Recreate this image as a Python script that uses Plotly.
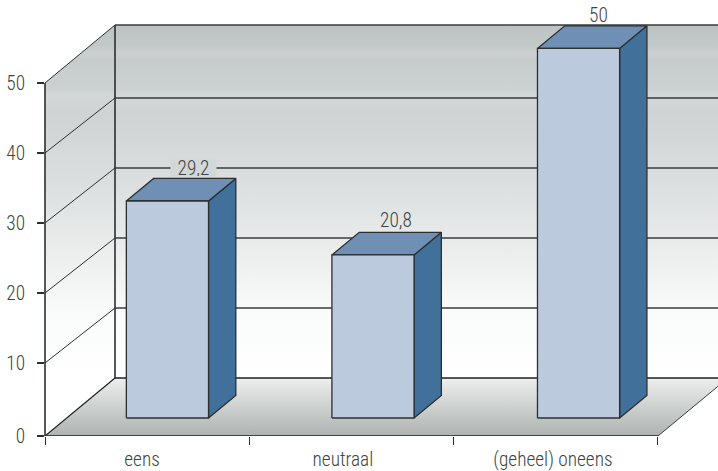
import plotly.graph_objects as go

# --- data ---
categories = ["eens", "neutraal", "(geheel) oneens"]
value_labels = ["29,2", "20,8", "50"]
bar_heights = [31.0, 23.3, 52.8]   # drawn height of each bar in axis units
y_ticks = [0, 10, 20, 30, 40, 50]

# --- geometry of the pseudo-3D box (axis units) ---
PX_X = 204.33
PX_Y = 7.0
BASE = -0.43                # the floor corner sits slightly under the linear zero
X_MAX = (718 - 45) / PX_X
Y_MAX = BASE + 436 / PX_Y
DX = 70 / PX_X
DY = 58 / PX_Y
DY_GRID = 55 / PX_Y
N = len(categories)
BAR_LEFT = 0.292
BAR_W = 0.402
BAR_PITCH = 1.006
D0, D1 = 0.31, 0.70
INK = "#2b2f30"
FONT = "Roboto Condensed, Liberation Sans, sans-serif"
FONT_SIZE = 19.3
TEXT = "#404344"
TOP = y_ticks[-1]


def proj(x, v, d=0.0):
    return x + d * DX, v + d * DY


def poly(points, **kw):
    xs, ys = zip(*points)
    return go.Scatter(x=list(xs) + [xs[0]], y=list(ys) + [ys[0]], mode="lines",
                      fill="toself", hoverinfo="skip", showlegend=False, **kw)


def line(points, color=INK, width=1.0):
    xs, ys = zip(*points)
    return go.Scatter(x=list(xs), y=list(ys), mode="lines", hoverinfo="skip", showlegend=False,
                      line=dict(color=color, width=width))


wall_scale = [
    [0.0, "#ffffff"], [0.18, "#fafbfb"], [0.35, "#eceeee"], [0.55, "#dcdfdf"],
    [0.75, "#cfd3d3"], [0.80, "#d3d7d7"], [0.82, "#ccd1d1"], [0.90, "#c6cbcb"],
    [0.92, "#ccd0d0"], [0.94, "#c3c9c8"], [1.0, "#bcc3c2"],
]
floor_scale = [[0.0, "#aeb3b2"], [0.45, "#c9cdcc"], [1.0, "#eeefef"]]
nl = dict(width=0)
grad = dict(type="vertical", colorscale=wall_scale, start=BASE + DY, stop=TOP + DY)

fig = go.Figure()

# side wall and back wall
fig.add_trace(poly([proj(0, BASE), proj(0, BASE, 1), proj(0, TOP, 1), proj(0, TOP)],
                   line=nl, fillgradient=grad))
fig.add_trace(poly([proj(0, BASE, 1), proj(N, BASE, 1), proj(N, TOP, 1), proj(0, TOP, 1)],
                   line=nl, fillgradient=grad))
# floor
fig.add_trace(poly([proj(0, BASE), proj(N, BASE), proj(N, BASE, 1), proj(0, BASE, 1)],
                   line=nl,
                   fillgradient=dict(type="vertical", colorscale=floor_scale,
                                     start=BASE, stop=BASE + DY)))

# gridlines
for t in y_ticks[1:-1]:
    fig.add_trace(line([(0, t), (DX, t + DY_GRID)], color=INK, width=1.0))
    fig.add_trace(line([(DX, t + DY_GRID), (N + DX, t + DY_GRID)], color="#3a3d3d", width=1.5))
fig.add_trace(line([proj(0, TOP), proj(0, TOP, 1)], color=INK, width=1.0))
fig.add_trace(line([proj(0, TOP, 1), proj(N, TOP, 1)], color="#3a3d3d", width=1.5))
fig.add_trace(line([proj(0, BASE, 1), proj(0, TOP, 1)], width=1.6))
fig.add_trace(line([proj(0, BASE, 1), proj(N, BASE, 1)], color="#1d2020", width=1.6))
fig.add_trace(line([proj(0, BASE), proj(0, BASE, 1)], color="#1d2020", width=1.2))
fig.add_trace(line([proj(N, BASE), proj(N, BASE, 1)], color="#3a3d3d", width=1.0))
fig.add_trace(line([proj(0, BASE), proj(N, BASE)], color="#1d2020", width=1.6))

# bars
annotations = []
label_bg = ["#d3d7d7", None, None]
label_box_w = [45, None, None]
label_box_h = [16, None, None]
label_shift = [-1, -4, -7]
label_gap = [10, 12, 10]
for i, h in enumerate(bar_heights):
    x0 = BAR_LEFT + i * BAR_PITCH
    x1 = x0 + BAR_W
    b, t = BASE, BASE + h
    bl = dict(color=INK, width=1.3)
    fig.add_trace(poly([proj(x1, b, D0), proj(x1, b, D1), proj(x1, t, D1), proj(x1, t, D0)],
                       fillcolor="#41709b", line=bl))
    fig.add_trace(poly([proj(x0, t, D0), proj(x1, t, D0), proj(x1, t, D1), proj(x0, t, D1)],
                       fillcolor="#6f8fb5", line=bl))
    fig.add_trace(poly([proj(x0, b, D0), proj(x1, b, D0), proj(x1, t, D0), proj(x0, t, D0)],
                       fillcolor="#bccade", line=bl))
    ax, ay = proj((x0 + x1) / 2, t, D1)
    annotations.append(dict(x=ax, y=ay, text=value_labels[i], showarrow=False,
                            xanchor="center", yanchor="middle",
                            xshift=label_shift[i], yshift=label_gap[i],
                            bgcolor=label_bg[i], borderpad=0,
                            width=label_box_w[i], height=label_box_h[i],
                            font=dict(family=FONT, size=FONT_SIZE, color=TEXT, weight=300)))

fig.update_layout(
    width=718, height=471, showlegend=False,
    margin=dict(l=45, r=0, t=0, b=35, autoexpand=False),
    paper_bgcolor="white", plot_bgcolor="white",
    font=dict(family=FONT, size=FONT_SIZE, color=TEXT, weight=300),
    annotations=annotations,
    shapes=[dict(type="line", xref="paper", yref="y", x0=0, x1=0, y0=BASE, y1=TOP,
                 line=dict(color=INK, width=1.6))],
    xaxis=dict(range=[0, X_MAX], showgrid=False, zeroline=False, showline=False,
               tickmode="array", tickvals=[0.475, 1.458, 2.486], ticktext=categories,
               ticks="", ticklabelstandoff=10,
               minor=dict(tickmode="array", tickvals=list(range(N + 1)), ticks="outside",
                          ticklen=8, tickwidth=1.2, tickcolor=INK, showgrid=False)),
    yaxis=dict(range=[BASE, Y_MAX], showgrid=False, zeroline=False, showline=False,
               tickmode="array", tickvals=[BASE if t == 0 else t for t in y_ticks],
               ticktext=[str(t) for t in y_ticks],
               ticks="outside", ticklen=7, tickwidth=1.6, tickcolor=INK, ticklabelstandoff=8),
)
fig.write_html("out.html", config=dict(displayModeBar=False),
               post_script="document.body.style.margin='0';")
